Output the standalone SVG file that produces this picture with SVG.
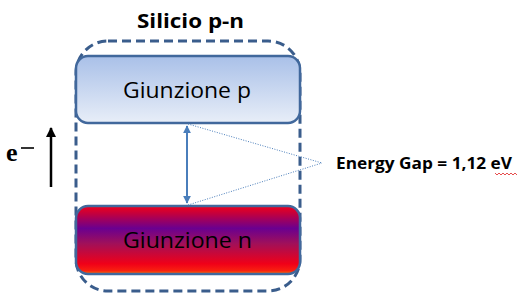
<svg xmlns="http://www.w3.org/2000/svg" width="520" height="307" viewBox="0 0 520 307">
<defs>
<linearGradient id="gp" x1="0" y1="0" x2="0" y2="1">
<stop offset="0" stop-color="#A9C0E8"/>
<stop offset="1" stop-color="#E8EEF8"/>
</linearGradient>
<linearGradient id="gn" x1="0" y1="0" x2="0" y2="1">
<stop offset="0" stop-color="#F0001A"/>
<stop offset="0.12" stop-color="#C00040"/>
<stop offset="0.33" stop-color="#6A0090"/>
<stop offset="0.55" stop-color="#A0105A"/>
<stop offset="0.85" stop-color="#F00018"/>
<stop offset="0.95" stop-color="#F82010"/>
<stop offset="1" stop-color="#FF7000"/>
</linearGradient>
<marker id="ab" viewBox="0 0 10 10" refX="9" refY="5" markerWidth="4" markerHeight="4" orient="auto-start-reverse">
<path d="M0,0 L10,5 L0,10 z" fill="#4A7EBB"/>
</marker>
<marker id="ak" viewBox="0 0 10 10" refX="9" refY="5" markerWidth="4" markerHeight="4" orient="auto">
<path d="M0,0 L10,5 L0,10 z" fill="#000"/>
</marker>
<style>
.box{stroke:#41689C;stroke-width:2.5}
.lbl{font-family:"Open Sans","Liberation Sans",sans-serif;font-size:21px;fill:#000}
.bold{font-family:"Open Sans","Liberation Sans",sans-serif;font-weight:bold;fill:#000}
</style>
</defs>
<rect width="520" height="307" fill="#fff"/>
<g id="outer">
<rect x="76" y="41" width="224" height="250" rx="32" ry="32" fill="none" stroke="#3A5D8C" stroke-width="3" stroke-dasharray="9,5"/>
</g>
<text id="title" class="bold" x="137" y="28" font-size="19" textLength="107" lengthAdjust="spacingAndGlyphs">Silicio p-n</text>
<g id="giunzione-p">
<rect class="box" x="76" y="56" width="224" height="67" rx="12" ry="12" fill="url(#gp)"/>
<text class="lbl" x="123" y="98" textLength="128" lengthAdjust="spacingAndGlyphs">Giunzione p</text>
</g>
<g id="giunzione-n">
<rect class="box" x="76" y="206" width="224" height="68" rx="12" ry="12" fill="url(#gn)"/>
<text class="lbl" x="123" y="248" textLength="129" lengthAdjust="spacingAndGlyphs">Giunzione n</text>
</g>
<g id="connectors">
<line x1="187" y1="126" x2="187" y2="203" stroke="#4A7EBB" stroke-width="2" marker-start="url(#ab)" marker-end="url(#ab)"/>
<line x1="188" y1="124" x2="322" y2="163" stroke="#4A7EBB" stroke-width="1" stroke-dasharray="1,1.5"/>
<line x1="188" y1="205" x2="322" y2="163" stroke="#4A7EBB" stroke-width="1" stroke-dasharray="1,1.5"/>
<line x1="51" y1="187" x2="51" y2="128" stroke="#000" stroke-width="2.5" marker-end="url(#ak)"/>
</g>
<g id="energy-gap">
<text class="bold" x="336" y="169" font-size="16" textLength="176" lengthAdjust="spacingAndGlyphs">Energy Gap = 1,12 eV</text>
<path d="M495,173 l2,2 l2,-2 l2,2 l2,-2 l2,2 l2,-2 l2,2 l2,-2 l2,2 l2,-2 l2,2" fill="none" stroke="#E02020" stroke-width="0.8"/>
</g>
<g id="electron">
<text x="6" y="161" font-family="'Liberation Serif',serif" font-weight="bold" font-size="26" fill="#000">e</text>
<line x1="21" y1="148" x2="34" y2="148" stroke="#000" stroke-width="1.6"/>
</g>
</svg>
